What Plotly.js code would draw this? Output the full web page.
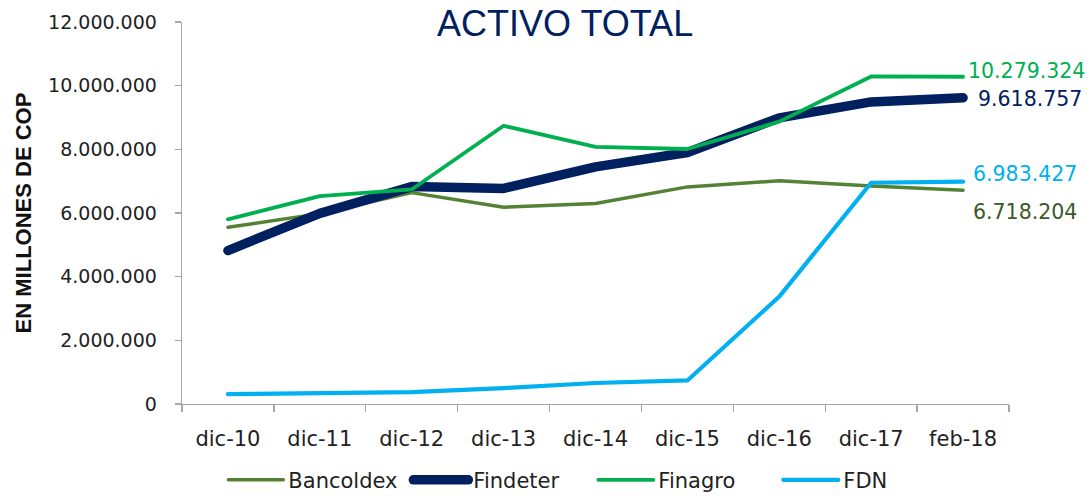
<!DOCTYPE html>
<html>
<head>
<meta charset="utf-8">
<script src="https://cdn.plot.ly/plotly-3.0.1.min.js"></script>
<style>
html,body{margin:0;padding:0;background:#fff;}
#chart{width:1091px;height:496px;}
.js-line{stroke-linecap:round;stroke-linejoin:round;}
.legendlines path{stroke-linecap:round;}
</style>
</head>
<body>
<div id="chart"></div>
<script>
const categories = ['dic-10','dic-11','dic-12','dic-13','dic-14','dic-15','dic-16','dic-17','feb-18'];
const bancoldex = [5550000, 5980000, 6640000, 6180000, 6300000, 6820000, 7010000, 6850000, 6718204];
const findeter  = [4820000, 5990000, 6830000, 6770000, 7450000, 7900000, 8990000, 9490000, 9618757];
const finagro   = [5800000, 6530000, 6740000, 8740000, 8080000, 8010000, 8870000, 10290000, 10279324];
const fdn       = [310000, 345000, 376000, 500000, 660000, 740000, 3375000, 6950000, 6983427];
const seriesNames = ['Bancoldex','Findeter','Finagro','FDN'];
const yTitle = 'EN MILLONES DE COP';
const chartTitle = 'ACTIVO TOTAL';

const fmt = v => String(v).replace(/\B(?=(\d{3})+(?!\d))/g, '.');

const series = [bancoldex, findeter, finagro, fdn];
const colors = ['#548235','#002060','#00B050','#00B0F0'];
const labelColors = ['#3B5A26','#002060','#00B050','#00B0F0'];
const widths = [3.5, 9.5, 3.8, 4.2];
const labelShift = [[8,-22],[13,-1],[3,6],[8,8]];

const traces = series.map((s,i)=>({
  type:'scatter', mode:'lines', name:seriesNames[i],
  x:categories, y:s,
  line:{color:colors[i], width:widths[i]},
  hoverinfo:'skip'
}));

const last = categories[categories.length-1];
const annotations = series.map((s,i)=>({
  x:last, y:s[s.length-1], xref:'x', yref:'y',
  text:fmt(s[s.length-1]), showarrow:false,
  xanchor:'left', yanchor:'middle',
  xshift:labelShift[i][0], yshift:labelShift[i][1],
  font:{family:'DejaVu Sans', size:20.5, color:labelColors[i]}
}));

const layout = {
  width:1091, height:496,
  margin:{l:182, r:82, t:22, b:92, autoexpand:false},
  paper_bgcolor:'#fff', plot_bgcolor:'#fff',
  separators:',.',
  showlegend:true,
  title:{text:chartTitle, x:0.518, xref:'container', xanchor:'center', y:0.952, yref:'container', yanchor:'middle',
         font:{family:'Liberation Sans', size:36, color:'#002060'}},
  xaxis:{type:'category', range:[-0.5,8.5], showgrid:false, zeroline:false,
         showline:true, linecolor:'#a6a6a6', linewidth:1.3,
         ticks:'outside', tickson:'boundaries', ticklen:7, tickcolor:'#a6a6a6', tickwidth:1.3,
         ticklabelstandoff:15,
         tickfont:{family:'DejaVu Sans', size:21, color:'#222'}},
  yaxis:{range:[0,12000000], dtick:2000000, tickformat:',d', showgrid:false, zeroline:false,
         showline:true, linecolor:'#a6a6a6', linewidth:1.3,
         ticks:'outside', ticklen:6, tickcolor:'#a6a6a6', tickwidth:1.3,
         ticklabelstandoff:14,
         tickfont:{family:'DejaVu Sans', size:19, color:'#222'},
         title:{text:yTitle, standoff:10, font:{family:'Liberation Sans', size:22, color:'#111', weight:'bold'}}},
  legend:{orientation:'h', x:0.05, xanchor:'left', y:0.032, yref:'container', yanchor:'middle',
          font:{family:'DejaVu Sans', size:21, color:'#222'}, itemwidth:55, entrywidth:115, bgcolor:'rgba(0,0,0,0)'},
  annotations:annotations
};

Plotly.newPlot('chart', traces, layout, {displayModeBar:false, staticPlot:true});
</script>
</body>
</html>
